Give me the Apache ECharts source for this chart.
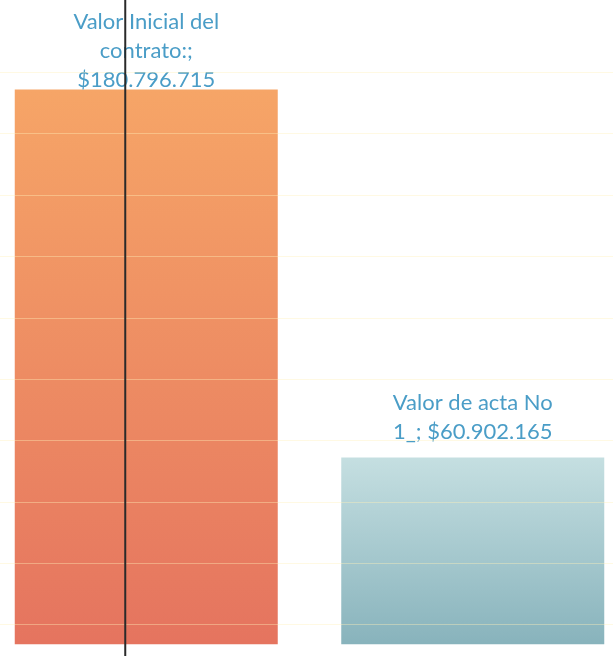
<!DOCTYPE html>
<html>
<head>
<meta charset="utf-8">
<style>
html,body{margin:0;padding:0;background:#fff;overflow:hidden;width:613px;height:656px;position:relative}
#c{position:absolute;left:-17.25px;top:0;width:653px;height:686.3px}
</style>
<script src="https://cdn.jsdelivr.net/npm/echarts@6/dist/echarts.min.js"></script>
</head>
<body>
<div id="c"></div>
<script>
const categories = ['Valor Inicial del contrato:', 'Valor de acta No 1_'];
const values = [180796715, 60902165];
const labelTexts = ['Valor Inicial del\ncontrato:;\n$180.796.715', 'Valor de acta No\n1_; $60.902.165'];

const chart = echarts.init(document.getElementById('c'));
const grads = [
  new echarts.graphic.LinearGradient(0, 0, 0, 1, [{offset: 0, color: '#F6A567'}, {offset: 1, color: '#E5745F'}]),
  new echarts.graphic.LinearGradient(0, 0, 0, 1, [{offset: 0, color: '#C5DFE1'}, {offset: 1, color: '#88B3BC'}])
];
const distances = [-5, 10.5];
chart.setOption({
  animation: false,
  grid: {left: 0, right: 0, top: 72.3, bottom: 0, containLabel: false},
  xAxis: {
    type: 'category', data: categories,
    axisLine: {show: false}, axisTick: {show: false}, axisLabel: {show: false}
  },
  yAxis: {
    type: 'value', min: -13.6e6, max: 186.4e6, interval: 20e6, z: 5,
    axisLine: {show: false}, axisTick: {show: false}, axisLabel: {show: false},
    splitLine: {show: true, lineStyle: {color: 'rgba(255,240,185,0.4)', width: 1}}
  },
  series: [{
    type: 'bar', barWidth: 263,
    data: values.map((v, i) => ({
      value: v,
      itemStyle: {color: grads[i]},
      label: {
        show: true, position: 'top', distance: distances[i],
        formatter: labelTexts[i],
        fontFamily: 'Lato', fontSize: 22, lineHeight: 29, color: '#4A9DC7', align: 'center'
      }
    }))
  }],
  graphic: [{
    type: 'line', z: 100,
    shape: {x1: 142.25, y1: 0, x2: 142.25, y2: 656},
    style: {stroke: '#2a2a2a', lineWidth: 2}
  }]
});
</script>
</body>
</html>
